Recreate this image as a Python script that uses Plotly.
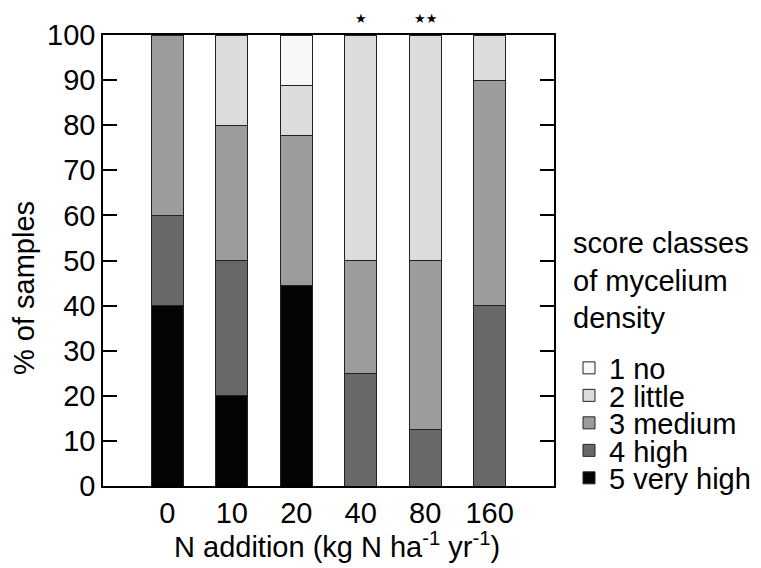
import plotly.graph_objects as go

# N addition rates (kg N ha-1 yr-1) and share of samples (%) per score class
n_rates = ["0", "10", "20", "40", "80", "160"]
very_high = [40, 20, 44.4, 0, 0, 0]
high = [20, 30, 0, 25, 12.5, 40]
medium = [40, 30, 33.3, 25, 37.5, 50]
little = [0, 20, 11.1, 50, 50, 10]
no_myc = [0, 0, 11.2, 0, 0, 0]
significance = ["", "", "", "★", "★★", ""]

classes = [
    ("5 very high", very_high, "#040404"),
    ("4 high", high, "#686868"),
    ("3 medium", medium, "#9c9c9c"),
    ("2 little", little, "#dcdcdc"),
    ("1 no", no_myc, "#f8f8f8"),
]

FONT = "Liberation Sans, Arial, sans-serif"
FS = 29

# plot area in pixels: x 103..554, y 35..486
L, R, T, B = 103, 554, 35, 486
H = B - T


def py(pix):
    """pixel row -> paper y"""
    return (B - pix) / H


def px(pix):
    """pixel column -> paper x"""
    return (pix - L) / (R - L)


fig = go.Figure()
# one legend per class so the entries can sit close together
legend_rows = {"1 no": 368, "2 little": 395.5, "3 medium": 423,
               "4 high": 450.5, "5 very high": 478}
legend_ids = {}
for i, (name, _, _) in enumerate(reversed(classes)):
    legend_ids[name] = "legend" if i == 0 else f"legend{i + 1}"

for name, vals, col in classes:
    fig.add_trace(go.Bar(
        x=n_rates, y=[v if v else None for v in vals], name=name, width=0.5,
        marker=dict(color=col, line=dict(color="#222222", width=1)),
        legend=legend_ids[name],
    ))

for i, sig in enumerate(significance):
    if sig:
        fig.add_annotation(x=i, y=100, text=sig, showarrow=False,
                           yanchor="bottom", yshift=7,
                           font=dict(family="DejaVu Sans", size=13, color="black"))

fig.add_annotation(xref="paper", yref="paper", x=px(24), y=py(288),
                   xanchor="center", yanchor="middle",
                   text="% of samples", textangle=-90, showarrow=False,
                   font=dict(family=FONT, size=FS, color="black"))
fig.add_annotation(xref="paper", yref="paper", x=px(337), y=py(545),
                   xanchor="center", yanchor="middle",
                   text="N addition (kg N ha<sup>-1</sup> yr<sup>-1</sup>)",
                   showarrow=False,
                   font=dict(family=FONT, size=FS, color="black"))
fig.add_annotation(xref="paper", yref="paper", x=px(571), y=py(280),
                   xanchor="left", yanchor="middle", align="left",
                   text="score classes<br>of mycelium<br>density",
                   showarrow=False,
                   font=dict(family=FONT, size=FS, color="black"))

legend_layout = {}
for name, _, _ in classes:
    legend_layout[legend_ids[name]] = dict(
        x=px(569), xanchor="left", y=py(legend_rows[name]), yanchor="middle",
        font=dict(family=FONT, size=FS, color="black"),
        bgcolor="rgba(0,0,0,0)",
    )

fig.update_layout(
    width=761, height=568,
    margin=dict(l=L, r=761 - R, t=T, b=568 - B, autoexpand=False),
    barmode="stack",
    plot_bgcolor="white", paper_bgcolor="white",
    font=dict(family=FONT, size=FS, color="black"),
    showlegend=True,
    xaxis=dict(
        type="category", range=[-1, 6],
        showline=True, linecolor="black", linewidth=1.5, mirror=True,
        ticks="", showgrid=False, tickfont=dict(size=FS),
    ),
    yaxis=dict(
        range=[0, 100], dtick=10, tick0=0,
        showline=True, linecolor="black", linewidth=1.5, mirror="ticks",
        ticks="inside", ticklen=14, tickwidth=1.5, tickcolor="black",
        showgrid=False, zeroline=False, tickfont=dict(size=FS),
    ),
    **legend_layout,
)

fig.write_html("out.html")
